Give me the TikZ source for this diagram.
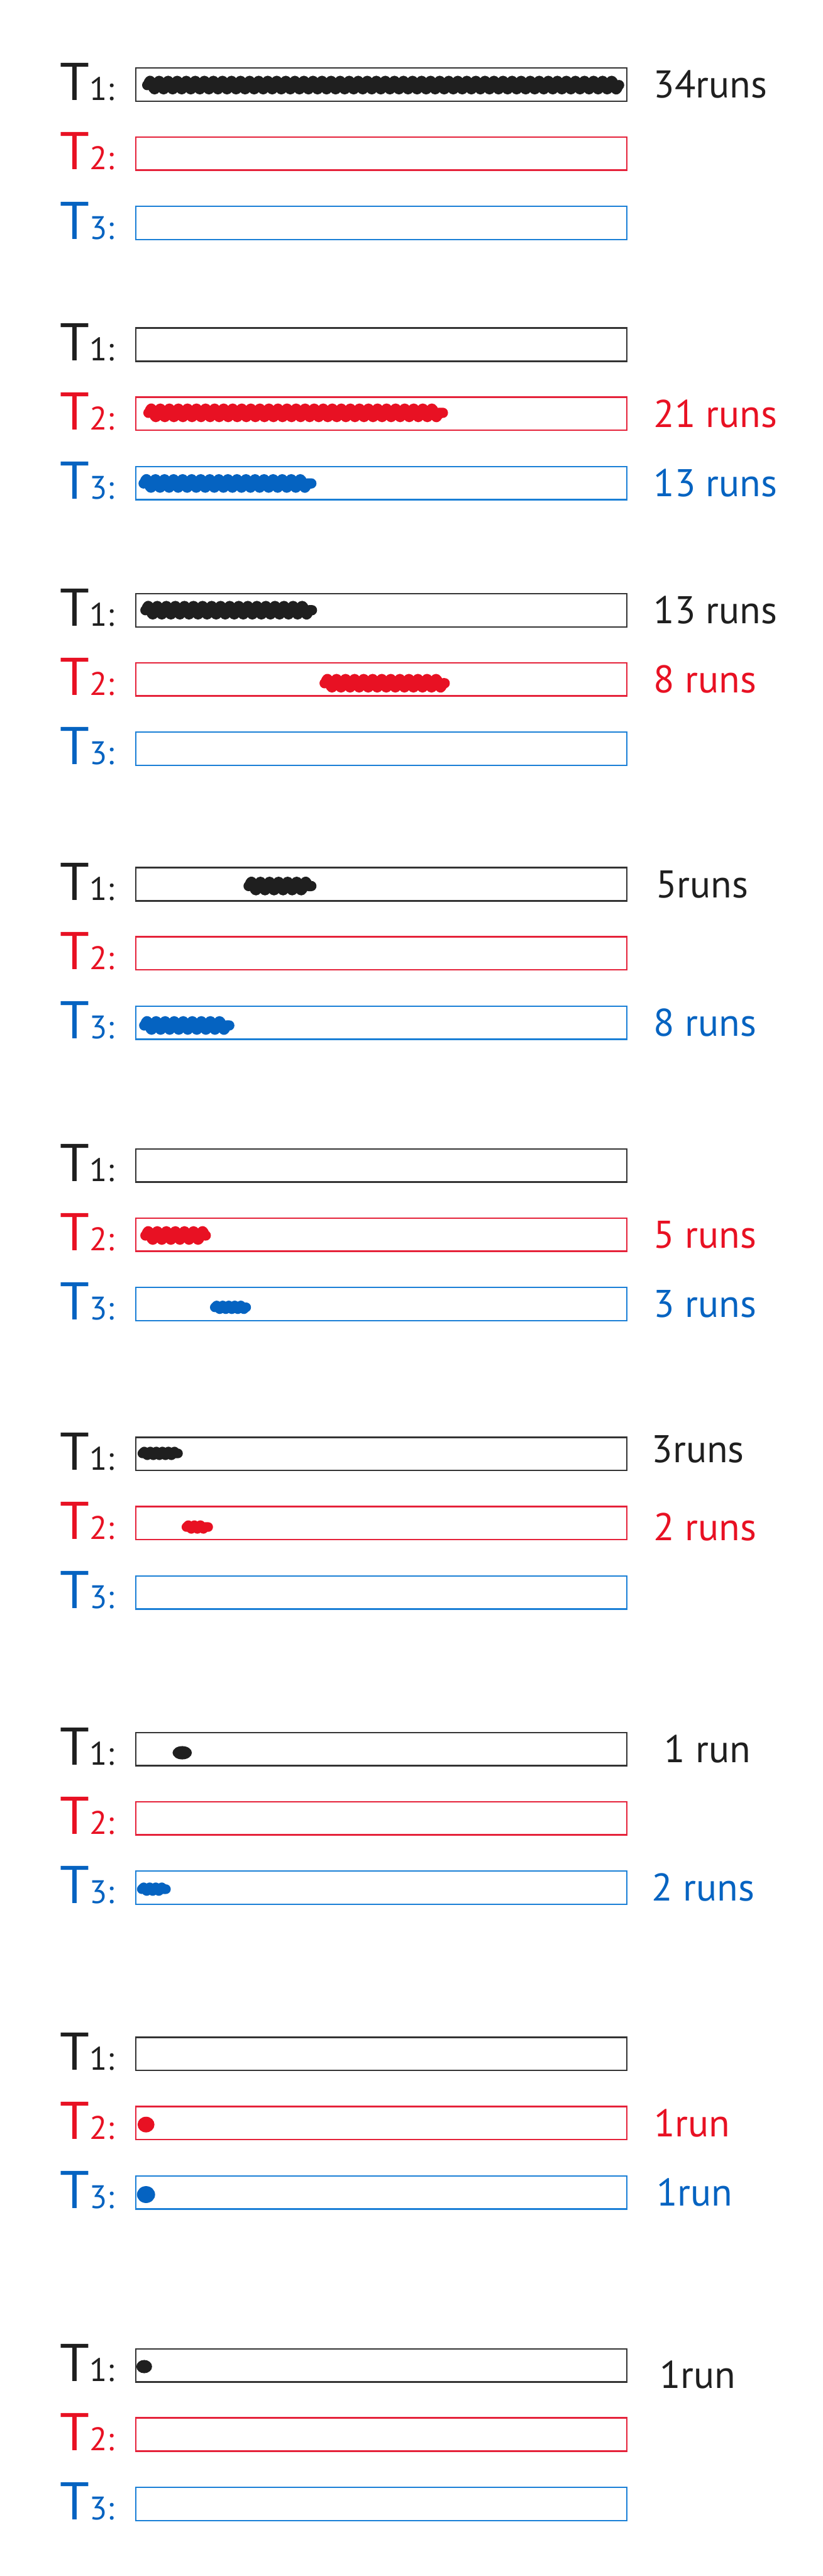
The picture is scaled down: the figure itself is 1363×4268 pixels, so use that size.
\documentclass[tikz,border=0pt]{standalone}
\usepackage{fontspec}
\setmainfont{PT Sans}
\usetikzlibrary{decorations.pathmorphing,positioning}
\definecolor{inkK}{HTML}{1F1F1F}
\definecolor{inkR}{HTML}{E81123}
\definecolor{inkB}{HTML}{0563C1}
\definecolor{boxK}{HTML}{333333}
\definecolor{boxR}{HTML}{E5223A}
\definecolor{boxB}{HTML}{1A7FD6}
\newcommand\tdig[1]{{\fontsize{54}{54}\selectfont #1}}
\begin{document}
\begin{tikzpicture}[x=1pt,y=-1pt,
  tbox/.style={draw, line width=2.4pt, minimum width=814pt, minimum height=55pt, inner sep=0pt, outer sep=0pt, anchor=west},
  tlab/.style={inner sep=0pt, font=\fontsize{88}{88}\selectfont},
  rlab/.style={inner sep=0pt, font=\fontsize{64}{64}\selectfont},
  scrib/.style={line width=17pt, line cap=round, line join=round, decorate, decoration={snake, amplitude=7pt, segment length=15pt}},
  blob/.style={line width=16pt, line cap=round, line join=round, decorate, decoration={snake, amplitude=3pt, segment length=10pt}},
]
\useasboundingbox (0,0) rectangle (1363,4268);
\fill[white] (0,0) rectangle (1363,4268);

\foreach \i/\y in {1/140,2/571,3/1011,4/1465,5/1931,6/2409,7/2898,8/3403,9/3919}{
  \node[tbox,draw=boxK] (b\i-1) at (225,\y) {};
  \node[tbox,draw=boxR] (b\i-2) at (225,\y+114.5) {};
  \node[tbox,draw=boxB] (b\i-3) at (225,\y+229.5) {};
  \node[tlab,text=inkK,left=35pt of b\i-1,yshift=4pt] (t\i-1) {T\tdig{1:}};
  \node[tlab,text=inkR,left=35pt of b\i-2,yshift=4pt] (t\i-2) {T\tdig{2:}};
  \node[tlab,text=inkB,left=35pt of b\i-3,yshift=4pt] (t\i-3) {T\tdig{3:}};
}

% run counts
\node[rlab,text=inkK,right=44pt of b1-1] (r1-1) {34runs};
\node[rlab,text=inkR,right=44pt of b2-2] (r2-2) {21 runs};
\node[rlab,text=inkB,right=44pt of b2-3] (r2-3) {13 runs};
\node[rlab,text=inkK,right=44pt of b3-1] (r3-1) {13 runs};
\node[rlab,text=inkR,right=44pt of b3-2] (r3-2) {8 runs};
\node[rlab,text=inkK,right=48pt of b4-1] (r4-1) {5runs};
\node[rlab,text=inkB,right=44pt of b4-3] (r4-3) {8 runs};
\node[rlab,text=inkR,right=44pt of b5-2] (r5-2) {5 runs};
\node[rlab,text=inkB,right=44pt of b5-3] (r5-3) {3 runs};
\node[rlab,text=inkK,right=41pt of b6-1,yshift=8pt] (r6-1) {3runs};
\node[rlab,text=inkR,right=44pt of b6-2,yshift=-6pt] (r6-2) {2 runs};
\node[rlab,text=inkK,right=62pt of b7-1] (r7-1) {1 run};
\node[rlab,text=inkB,right=41pt of b7-3] (r7-3) {2 runs};
\node[rlab,text=inkR,right=45pt of b8-2] (r8-2) {1run};
\node[rlab,text=inkB,right=49pt of b8-3] (r8-3) {1run};
\node[rlab,text=inkK,right=54pt of b9-1,yshift=-15pt] (r9-1) {1run};

% scribbles (runs)
\draw[scrib,draw=inkK] (244,141) -- (1026,141);
\draw[scrib,draw=inkR] (246,684) -- (734,684);
\draw[scrib,draw=inkB] (238,801) -- (516,801);
\draw[scrib,draw=inkK] (241,1011) -- (517,1011);
\draw[scrib,draw=inkR] (538,1132) -- (737,1132);
\draw[scrib,draw=inkK] (412,1468) -- (516,1468);
\draw[scrib,draw=inkB] (239,1699) -- (380,1699);
\draw[scrib,draw=inkR] (241,2047) -- (341,2047);
\draw[blob,draw=inkB] (356,2166) -- (408,2166);
\draw[blob,draw=inkK] (236,2408) -- (295,2408);
\draw[blob,draw=inkR] (309,2530) -- (345,2530);
\fill[inkK] (302,2904) ellipse [x radius=16pt, y radius=11pt];
\draw[blob,draw=inkB] (235,3130) -- (275,3130);
\fill[inkR] (242,3520) ellipse [x radius=14pt, y radius=13pt];
\fill[inkB] (242,3636) ellipse [x radius=15pt, y radius=14pt];
\fill[inkK] (239,3921) ellipse [x radius=13pt, y radius=11pt];
\end{tikzpicture}
\end{document}
